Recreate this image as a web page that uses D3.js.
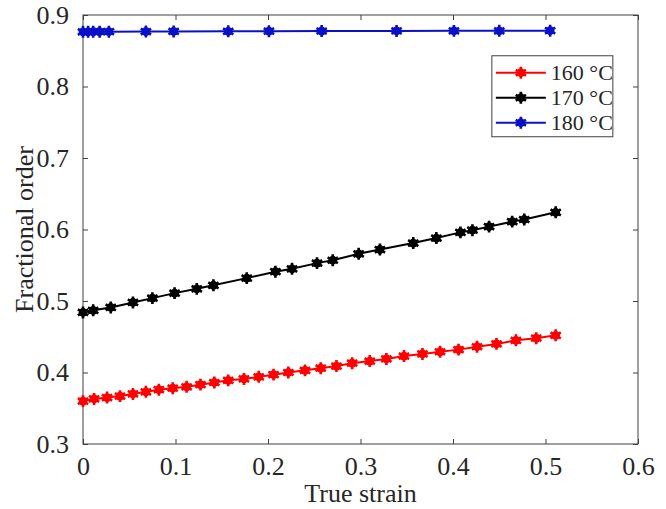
<!DOCTYPE html>
<html>
<head>
<meta charset="utf-8">
<script src="https://cdn.jsdelivr.net/npm/d3@7"></script>
<style>
  body { margin: 0; background: #fff; }
  text { font-family: "Liberation Serif", "Times New Roman", serif; fill: #262626; }
</style>
</head>
<body>
<script>
const margem = {topo: 15, direita: 28, base: 65, esquerda: 83}
const largura = 666 - margem.esquerda - margem.direita
const altura = 509 - margem.topo - margem.base

// dados
const series = ['160 °C', '170 °C', '180 °C']
const cores = ['#ff0000', '#000000', '#0a10c8']

const deformacao160 = [0, 0.012, 0.026, 0.040, 0.054, 0.068, 0.082, 0.097, 0.112, 0.127,
  0.142, 0.157, 0.174, 0.190, 0.206, 0.222, 0.240, 0.257, 0.274, 0.291, 0.310, 0.328,
  0.347, 0.367, 0.386, 0.406, 0.426, 0.447, 0.468, 0.490, 0.511]
const ordem160 = [0.360, 0.363, 0.365, 0.367, 0.370, 0.373, 0.376, 0.378, 0.380, 0.383,
  0.386, 0.389, 0.391, 0.394, 0.397, 0.400, 0.403, 0.406, 0.409, 0.413, 0.416, 0.419,
  0.423, 0.426, 0.429, 0.432, 0.436, 0.440, 0.445, 0.448, 0.452]

const deformacao170 = [0, 0.011, 0.030, 0.054, 0.075, 0.099, 0.123, 0.141, 0.177, 0.208,
  0.226, 0.253, 0.270, 0.298, 0.321, 0.357, 0.382, 0.408, 0.421, 0.439, 0.464, 0.477, 0.511]
const ordem170 = [0.484, 0.487, 0.491, 0.498, 0.504, 0.511, 0.517, 0.522, 0.532, 0.541,
  0.545, 0.553, 0.557, 0.566, 0.572, 0.581, 0.588, 0.596, 0.599, 0.604, 0.611, 0.614, 0.624]

const deformacao180 = [0, 0.0055, 0.011, 0.018, 0.028, 0.068, 0.098, 0.157, 0.201, 0.258,
  0.339, 0.401, 0.450, 0.505]
const ordem180 = [0.8765, 0.8765, 0.8766, 0.8766, 0.8767, 0.8769, 0.877, 0.8772, 0.8774,
  0.8776, 0.8777, 0.8778, 0.8779, 0.878]

const ticksX = [0, 0.1, 0.2, 0.3, 0.4, 0.5, 0.6]
const rotulosX = ['0', '0.1', '0.2', '0.3', '0.4', '0.5', '0.6']
const ticksY = [0.3, 0.4, 0.5, 0.6, 0.7, 0.8, 0.9]
const rotulosY = ['0.3', '0.4', '0.5', '0.6', '0.7', '0.8', '0.9']

const tituloX = 'True strain'
const tituloY = 'Fractional order'

var dados = [
  {nome: series[0], cor: cores[0], pontos: deformacao160.map((d, i) => ({x: d, y: ordem160[i]}))},
  {nome: series[1], cor: cores[1], pontos: deformacao170.map((d, i) => ({x: d, y: ordem170[i]}))},
  {nome: series[2], cor: cores[2], pontos: deformacao180.map((d, i) => ({x: d, y: ordem180[i]}))}
]

var fonte = '"Liberation Serif", "Times New Roman", serif'

var meuSVG = d3.select('body')
              .append('svg')
                .attr('width', 666)
                .attr('height', 509)
                .attr('font-family', fonte)

var grupo = meuSVG.append('g')
                  .attr('transform', 'translate(' + margem.esquerda + ',' + margem.topo + ')')

var escalaX = d3.scaleLinear()
                .domain([0, 0.6])
                .range([0, largura])

var escalaY = d3.scaleLinear()
                .domain([0.3, 0.9])
                .range([altura, 0])

var corEixo = '#404040'

// eixos com ticks para dentro nos quatro lados
var eixoBase = d3.axisBottom(escalaX)
              .tickValues(ticksX)
              .tickFormat((d, i) => rotulosX[i])
              .tickSize(-5)
              .tickSizeOuter(0)
              .tickPadding(13)

var eixoEsquerda = d3.axisLeft(escalaY)
              .tickValues(ticksY)
              .tickFormat((d, i) => rotulosY[i])
              .tickSize(-5)
              .tickSizeOuter(0)
              .tickPadding(14)

var eixoTopo = d3.axisTop(escalaX).tickValues(ticksX).tickFormat('').tickSize(-5).tickSizeOuter(0)
var eixoDireita = d3.axisRight(escalaY).tickValues(ticksY).tickFormat('').tickSize(-5).tickSizeOuter(0)

grupo.append('g').attr('transform', 'translate(0,' + altura + ')').call(eixoBase)
grupo.append('g').call(eixoEsquerda)
grupo.append('g').call(eixoTopo)
grupo.append('g').attr('transform', 'translate(' + largura + ',0)').call(eixoDireita)

grupo.selectAll('.domain').remove()
grupo.selectAll('.tick line').attr('stroke', corEixo)
grupo.selectAll('g').attr('font-family', fonte).attr('font-size', 26)
grupo.selectAll('.tick text').attr('fill', '#262626')

grupo.append('rect')
    .attr('width', largura)
    .attr('height', altura)
    .attr('fill', 'none')
    .attr('stroke', corEixo)
    .attr('stroke-width', 1)

var geradorLinha = d3.line()
              .x(d => escalaX(d.x))
              .y(d => escalaY(d.y))

var simbolo = d3.symbol().type(d3.symbolAsterisk).size(100)

function marcador (sel, cor) {
  sel.append('circle')
      .attr('r', 4.4)
      .attr('fill', cor)
  sel.append('path')
      .attr('d', simbolo)
      .attr('fill', 'none')
      .attr('stroke', cor)
      .attr('stroke-width', 2.6)
}

dados.forEach(function (s) {
  grupo.append('path')
      .attr('d', geradorLinha(s.pontos))
      .attr('fill', 'none')
      .attr('stroke', s.cor)
      .attr('stroke-width', 2)

  grupo.selectAll(null)
      .data(s.pontos)
      .enter()
      .append('g')
        .attr('transform', d => 'translate(' + escalaX(d.x) + ',' + escalaY(d.y) + ')')
        .call(marcador, s.cor)
})

// titulos dos eixos
grupo.append('text')
    .attr('x', largura / 2)
    .attr('y', altura + 58)
    .attr('text-anchor', 'middle')
    .style('font-size', '26px')
    .text(tituloX)

grupo.append('text')
    .attr('transform', 'translate(' + (-59) + ',' + (altura / 2) + ') rotate(-90)')
    .attr('text-anchor', 'middle')
    .attr('dy', '0.35em')
    .style('font-size', '26px')
    .text(tituloY)

// legenda
var legenda = grupo.append('g')
                .attr('transform', 'translate(' + escalaX(0.442) + ',' + escalaY(0.843) + ')')

legenda.append('rect')
    .attr('width', 121)
    .attr('height', 81)
    .attr('fill', '#fff')
    .attr('stroke', corEixo)
    .attr('stroke-width', 1)

dados.forEach(function (s, i) {
  var linhaY = 17 + i * 25
  legenda.append('line')
      .attr('x1', 4)
      .attr('x2', 54)
      .attr('y1', linhaY)
      .attr('y2', linhaY)
      .attr('stroke', s.cor)
      .attr('stroke-width', 2)
  legenda.append('g')
      .attr('transform', 'translate(29,' + linhaY + ')')
      .call(marcador, s.cor)
  legenda.append('text')
      .attr('x', 59)
      .attr('y', linhaY)
      .attr('dy', '0.35em')
      .style('font-size', '22px')
      .text(s.nome)
})
</script>
</body>
</html>
